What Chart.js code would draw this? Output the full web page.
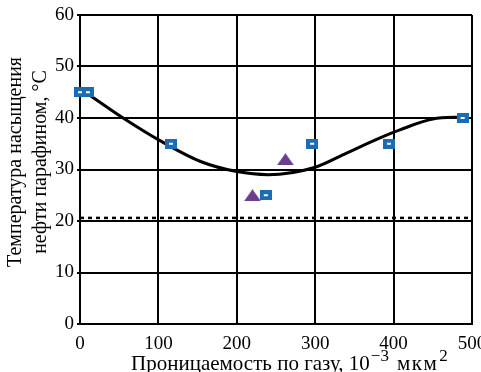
<!DOCTYPE html>
<html>
<head>
<meta charset="utf-8">
<script src="https://cdn.jsdelivr.net/npm/chart.js@4"></script>
<style>
  html, body { margin: 0; padding: 0; background: #fff; }
  #wrap { width: 481px; height: 372px; }
</style>
</head>
<body>
<div id="wrap"><canvas id="satChart"></canvas></div>
<script>
// measured points (squares)
const squareX = [0, 10, 116, 237, 296, 394, 488];
const squareY = [45, 45, 35, 25, 35, 35, 40];

// triangles
const triangleX = [220, 262];
const triangleY = [25, 32];

// trend curve
const curveX = [5, 55, 102, 153, 200, 240, 299, 340, 382, 408, 450, 490];
const curveY = [45.2, 40, 35.6, 31.6, 29.6, 29.0, 30.4, 33.2, 36.1, 37.7, 39.8, 40.2];

// dotted level
const levelX = [0, 500];
const levelY = [20.6, 20.6];

const xTicks = [0, 100, 200, 300, 400, 500];
const yTicks = [0, 10, 20, 30, 40, 50, 60];

const yTitleLines = ["Температура насыщения", "нефти парафином, °С"];
const xTitleParts = [
    { text: "Проницаемость по газу, 10", sup: false },
    { text: "−3", sup: true },
    { text: "мкм", sup: false, gap: 7, spacing: 1.5 },
    { text: "2", sup: true }
];

const toPoints = (xs, ys) => xs.map((x, i) => ({ x: x, y: ys[i] }));

// marker images
function squareMarker() {
    const c = document.createElement("canvas");
    c.width = 12;
    c.height = 10;
    const g = c.getContext("2d");
    g.fillStyle = "#1c6cb4";
    g.fillRect(0, 0, 12, 10);
    g.fillStyle = "#ffffff";
    g.fillRect(4, 4, 4, 2);
    return c;
}

function triangleMarker() {
    const c = document.createElement("canvas");
    c.width = 17;
    c.height = 12;
    const g = c.getContext("2d");
    g.fillStyle = "#6b3f8e";
    g.beginPath();
    g.moveTo(8.5, 0);
    g.lineTo(17, 12);
    g.lineTo(0, 12);
    g.closePath();
    g.fill();
    return c;
}

const serif = "'Liberation Serif', 'DejaVu Serif', serif";

// axis titles with real superscripts
const titlesPlugin = {
    id: "titles",
    afterDraw(chart) {
        const ctx = chart.ctx;
        ctx.save();
        ctx.fillStyle = "#000";

        // x title
        let x = 131;
        const base = 370;
        ctx.textBaseline = "alphabetic";
        ctx.textAlign = "left";
        xTitleParts.forEach(p => {
            x += p.gap || 0;
            ctx.font = (p.sup ? "17px " : "21px ") + serif;
            ctx.letterSpacing = (p.spacing || 0) + "px";
            ctx.fillText(p.text, x, p.sup ? base - 9 : base);
            x += ctx.measureText(p.text).width + 1;
        });
        ctx.letterSpacing = "0px";

        // y title, rotated
        ctx.translate(0, 162);
        ctx.rotate(-Math.PI / 2);
        ctx.font = "20px " + serif;
        ctx.textAlign = "center";
        ctx.textBaseline = "middle";
        ctx.fillText(yTitleLines[0], 0, 16);
        ctx.fillText(yTitleLines[1], 0, 41);
        ctx.restore();
    }
};

new Chart(document.getElementById("satChart"), {
    type: "scatter",
    data: {
        datasets: [
            {
                label: "level",
                type: "line",
                data: toPoints(levelX, levelY),
                borderColor: "#000",
                borderWidth: 2.5,
                borderDash: [4, 4],
                pointRadius: 0,
                order: 4
            },
            {
                label: "curve",
                type: "line",
                data: toPoints(curveX, curveY),
                borderColor: "#000",
                borderWidth: 3,
                cubicInterpolationMode: "monotone",
                pointRadius: 0,
                order: 3
            },
            {
                label: "triangles",
                data: toPoints(triangleX, triangleY),
                pointStyle: triangleMarker(),
                order: 2
            },
            {
                label: "squares",
                data: toPoints(squareX, squareY),
                pointStyle: squareMarker(),
                order: 1
            }
        ]
    },
    plugins: [titlesPlugin],
    options: {
        responsive: true,
        maintainAspectRatio: false,
        animation: false,
        clip: false,
        layout: {
            padding: { top: 15, right: 9, left: 0, bottom: 0 }
        },
        plugins: {
            legend: { display: false },
            tooltip: { enabled: false }
        },
        scales: {
            x: {
                type: "linear",
                min: 0,
                max: 500,
                afterBuildTicks: axis => {
                    axis.ticks = xTicks.map(v => ({ value: v }));
                },
                afterFit: axis => {
                    axis.height = 48;
                    axis.paddingLeft = 0;
                    axis.paddingRight = 0;
                },
                grid: {
                    color: "#000",
                    lineWidth: 2,
                    drawTicks: false
                },
                border: { color: "#000", width: 2 },
                ticks: {
                    color: "#000",
                    padding: 9,
                    font: { family: serif, size: 19 },
                    maxRotation: 0
                },
                title: { display: false }
            },
            y: {
                min: 0,
                max: 60,
                afterBuildTicks: axis => {
                    axis.ticks = yTicks.map(v => ({ value: v }));
                },
                afterFit: axis => {
                    axis.width = 80;
                    axis.paddingTop = 0;
                    axis.paddingBottom = 0;
                },
                grid: {
                    color: "#000",
                    lineWidth: 2,
                    drawTicks: true,
                    tickLength: 3
                },
                border: { color: "#000", width: 2 },
                ticks: {
                    color: "#000",
                    padding: 3,
                    font: { family: serif, size: 19 }
                },
                title: { display: false }
            }
        }
    }
});
</script>
</body>
</html>
